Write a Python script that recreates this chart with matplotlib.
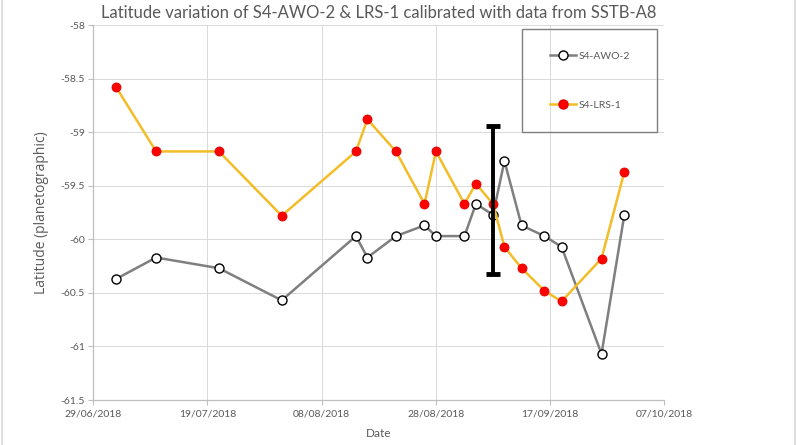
import matplotlib
matplotlib.use("Agg")
import matplotlib.pyplot as plt
import matplotlib.dates as mdates
import pandas as pd
from matplotlib.lines import Line2D
from matplotlib.patches import Rectangle

plt.rcParams['font.family'] = ['Lato', 'DejaVu Sans']

# observation dates (same for both features)
obs_dates = ["2018-07-03", "2018-07-10", "2018-07-21", "2018-08-01", "2018-08-14",
             "2018-08-16", "2018-08-21", "2018-08-26", "2018-08-28", "2018-09-02",
             "2018-09-04", "2018-09-07", "2018-09-09", "2018-09-12", "2018-09-16",
             "2018-09-19", "2018-09-26", "2018-09-30"]
awo2_lat = [-60.37, -60.17, -60.27, -60.57, -59.97, -60.17, -59.97, -59.87, -59.97,
            -59.97, -59.67, -59.77, -59.27, -59.87, -59.97, -60.07, -61.07, -59.77]
lrs1_lat = [-58.58, -59.18, -59.18, -59.78, -59.18, -58.88, -59.18, -59.67, -59.18,
            -59.67, -59.48, -59.67, -60.07, -60.27, -60.48, -60.58, -60.18, -59.37]

# error bar shown on the plot
err_date = ["2018-09-07"]
err_center = [-59.63]
err_half = [0.69]

tick_dates = ["2018-06-29", "2018-07-19", "2018-08-08", "2018-08-28", "2018-09-17", "2018-10-07"]

dates = pd.to_datetime(obs_dates)
ticks = pd.to_datetime(tick_dates)

txt = '#595959'
fig = plt.figure(figsize=(7.98, 4.45), dpi=100)
ax = fig.add_axes([0.1169, 0.1011, 0.7156, 0.8427])

ax.plot(dates, awo2_lat, color='#7f7f7f', lw=1.8, marker='o', ms=6.5,
        mfc='white', mec='black', mew=1.0, zorder=3)
ax.plot(dates, lrs1_lat, color='#f2bd27', lw=1.8, marker='o', ms=6.5,
        mfc='#ff0000', mec='#e00000', mew=0.6, zorder=3)
ax.errorbar(pd.to_datetime(err_date), err_center, yerr=err_half, fmt='none',
            ecolor='black', elinewidth=2.8, capsize=5, capthick=3.5, zorder=4)

ax.set_xlim(ticks[0], ticks[-1])
ax.set_ylim(-61.5, -58)
ax.set_xticks(ticks)
ax.xaxis.set_major_formatter(mdates.DateFormatter('%d/%m/%Y'))
ax.set_yticks([-61.5, -61, -60.5, -60, -59.5, -59, -58.5, -58])
ax.set_yticklabels(['-61.5', '-61', '-60.5', '-60', '-59.5', '-59', '-58.5', '-58'])

ax.grid(True, color='#d9d9d9', lw=0.7)
ax.set_axisbelow(True)
for s in ['top', 'right']:
    ax.spines[s].set_visible(False)
for s in ['left', 'bottom']:
    ax.spines[s].set_color('#bfbfbf')
    ax.spines[s].set_linewidth(0.9)
ax.tick_params(colors='#bfbfbf', labelcolor=txt, labelsize=7.5, length=3.5, width=0.8)
ax.tick_params(axis='y', pad=2.5)

ax.set_title("Latitude variation of S4-AWO-2 & LRS-1 calibrated with data from SSTB-A8",
             fontsize=12, color=txt, pad=5)
ax.set_xlabel("Date", fontsize=8.5, color=txt, labelpad=7)
ax.set_ylabel("Latitude (planetographic)", fontsize=10, color=txt, labelpad=8,
              family=['Open Sans', 'DejaVu Sans'])

# legend box
fig.patches.append(Rectangle((521.7 / 798, 1 - 132 / 445), 135.6 / 798, 102.7 / 445,
                             transform=fig.transFigure, fill=False,
                             edgecolor='#7f7f7f', lw=1.0))
handles = [Line2D([], [], color='#7f7f7f', lw=1.8, marker='o', ms=6.5, mfc='white', mec='black'),
           Line2D([], [], color='#f2bd27', lw=1.8, marker='o', ms=6.5, mfc='#ff0000', mec='#e00000')]
ax.legend(handles, ['S4-AWO-2', 'S4-LRS-1'], loc='center', frameon=False,
          bbox_to_anchor=(590 / 798, 1 - 80.5 / 445), bbox_transform=fig.transFigure,
          fontsize=7.5, labelcolor=txt, handlelength=2.5, handletextpad=0.3,
          labelspacing=3.8, markerscale=1.0)

# outer chart border
fig.add_artist(Line2D([1.5 / 798, 1.5 / 798], [0, 1], color='#d9d9d9', lw=1.2, transform=fig.transFigure))
fig.add_artist(Line2D([795 / 798, 795 / 798], [0, 1], color='#d9d9d9', lw=1.2, transform=fig.transFigure))

fig.savefig('out.png', dpi=100)
